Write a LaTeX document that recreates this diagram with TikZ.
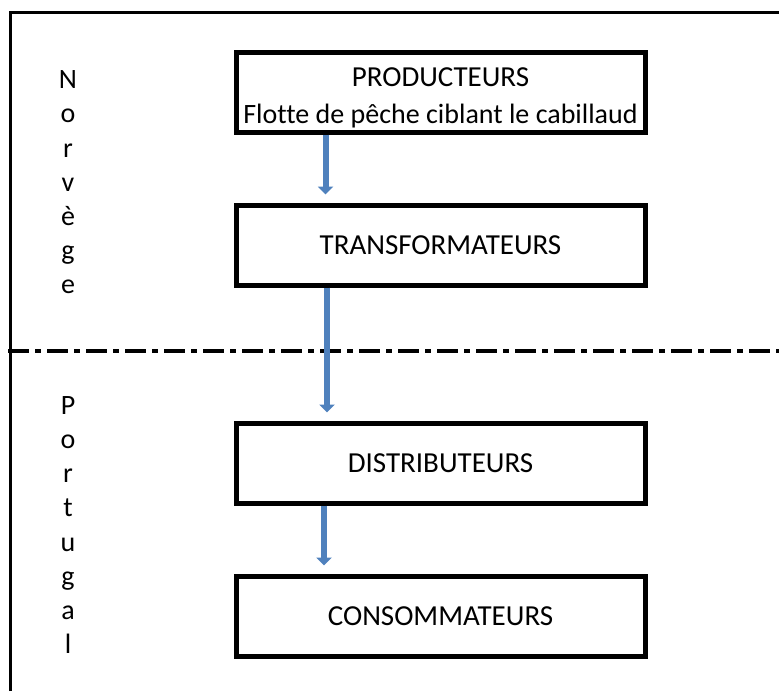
\documentclass[tikz,border=0pt]{standalone}
\usepackage{fontspec}
\setmainfont{Carlito}[Ligatures={NoCommon}]
\usepackage{tikz}
\usetikzlibrary{arrows.meta}
\definecolor{flowblue}{HTML}{4F81BD}
\tikzstyle{box} = [rectangle, minimum width=409pt, minimum height=80pt, text centered, draw=black, line width=5pt, inner sep=0pt]
\tikzstyle{flow} = [line width=6pt, draw=flowblue, -{Triangle[width=15pt,length=8pt]}]
\tikzstyle{country} = [align=center, font=\fontsize{28}{34.2}\selectfont]

\begin{document}
\begin{tikzpicture}[x=1pt, y=-1pt, node distance=153pt, font=\fontsize{29}{37}\selectfont]
  \useasboundingbox (0,0) rectangle (779,691);
  % frame and country border
  \draw [line width=3pt] (10,691) -- (10,12) -- (779,12);
  \draw [line width=3.5pt, dash pattern=on 21pt off 6pt on 6pt off 6pt] (8,351) -- (779,351);
  \node (prod) [box, align=center] at (440.5,92) {\rule{0pt}{30pt}PRODUCTEURS\\\fontsize{28}{37}\selectfont Flotte de pêche ciblant le cabillaud};
  \node (trans) [box, below of=prod] {TRANSFORMATEURS};
  \node (distr) [box, below of=trans, yshift=-65pt] {DISTRIBUTEURS};
  \node (cons) [box, below of=distr] {CONSOMMATEURS};
  \node (norway) [country] at (68,182.5) {N\\o\\r\\v\\è\\g\\e};
  \node (portugal) [country] at (68,525) {P\\o\\r\\t\\u\\g\\a\\l};
  \draw [flow] ([xshift=-115pt]prod.south) -- ([xshift=-115pt,yshift=8pt]trans.north);
  \draw [flow] ([xshift=-113.5pt]trans.south) -- ([xshift=-113.5pt,yshift=8pt]distr.north);
  \draw [flow] ([xshift=-116.5pt]distr.south) -- ([xshift=-116.5pt,yshift=8pt]cons.north);
\end{tikzpicture}
\end{document}
